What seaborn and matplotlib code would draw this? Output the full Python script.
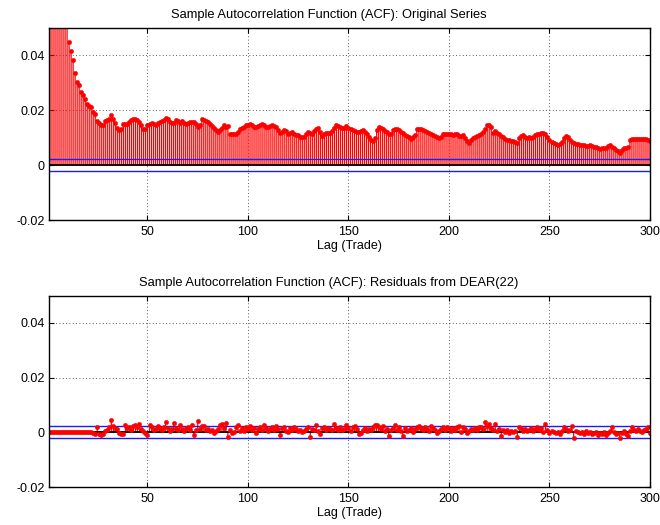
import numpy as np
import pandas as pd
import matplotlib
matplotlib.use("Agg")
import matplotlib.pyplot as plt
import seaborn as sns

# Lags of the sample autocorrelation function
lags = np.arange(1, 301)

# Sample ACF of the original trade series (lags 1..300)
acf_original = [
    0.1520, 0.1180, 0.0970, 0.0840, 0.0750, 0.0680, 0.0630, 0.0590, 0.0560, 0.0530,
    0.0450, 0.0416, 0.0383, 0.0337, 0.0304, 0.0291, 0.0265, 0.0254, 0.0242, 0.0224,
    0.0217, 0.0213, 0.0194, 0.0187, 0.0160, 0.0154, 0.0148, 0.0148, 0.0160, 0.0165,
    0.0168, 0.0184, 0.0169, 0.0153, 0.0137, 0.0129, 0.0131, 0.0150, 0.0150, 0.0150,
    0.0157, 0.0166, 0.0168, 0.0168, 0.0165, 0.0157, 0.0145, 0.0131, 0.0130, 0.0148,
    0.0150, 0.0152, 0.0150, 0.0148, 0.0152, 0.0157, 0.0160, 0.0165, 0.0172, 0.0168,
    0.0158, 0.0153, 0.0155, 0.0164, 0.0160, 0.0155, 0.0160, 0.0155, 0.0150, 0.0152,
    0.0157, 0.0158, 0.0157, 0.0150, 0.0140, 0.0147, 0.0168, 0.0163, 0.0160, 0.0158,
    0.0150, 0.0142, 0.0135, 0.0127, 0.0122, 0.0127, 0.0135, 0.0145, 0.0138, 0.0142,
    0.0115, 0.0113, 0.0115, 0.0113, 0.0120, 0.0132, 0.0135, 0.0138, 0.0145, 0.0146,
    0.0150, 0.0148, 0.0140, 0.0138, 0.0143, 0.0147, 0.0149, 0.0146, 0.0140, 0.0138,
    0.0143, 0.0145, 0.0144, 0.0140, 0.0128, 0.0117, 0.0122, 0.0129, 0.0125, 0.0114,
    0.0118, 0.0121, 0.0113, 0.0110, 0.0109, 0.0104, 0.0101, 0.0103, 0.0112, 0.0121,
    0.0118, 0.0114, 0.0123, 0.0130, 0.0136, 0.0120, 0.0105, 0.0112, 0.0117, 0.0116,
    0.0118, 0.0125, 0.0136, 0.0145, 0.0142, 0.0138, 0.0137, 0.0135, 0.0142, 0.0136,
    0.0130, 0.0127, 0.0125, 0.0122, 0.0121, 0.0126, 0.0128, 0.0122, 0.0112, 0.0101,
    0.0092, 0.0089, 0.0098, 0.0128, 0.0138, 0.0134, 0.0130, 0.0125, 0.0121, 0.0114,
    0.0112, 0.0128, 0.0131, 0.0132, 0.0128, 0.0122, 0.0117, 0.0110, 0.0106, 0.0104,
    0.0097, 0.0101, 0.0111, 0.0130, 0.0132, 0.0130, 0.0128, 0.0126, 0.0122, 0.0118,
    0.0115, 0.0110, 0.0106, 0.0101, 0.0099, 0.0102, 0.0114, 0.0114, 0.0113, 0.0114,
    0.0112, 0.0111, 0.0113, 0.0114, 0.0108, 0.0106, 0.0109, 0.0100, 0.0089, 0.0082,
    0.0093, 0.0099, 0.0101, 0.0106, 0.0110, 0.0114, 0.0122, 0.0131, 0.0148, 0.0145,
    0.0140, 0.0118, 0.0126, 0.0119, 0.0112, 0.0106, 0.0101, 0.0097, 0.0093, 0.0090,
    0.0088, 0.0087, 0.0084, 0.0081, 0.0098, 0.0107, 0.0109, 0.0103, 0.0099, 0.0101,
    0.0100, 0.0101, 0.0109, 0.0112, 0.0114, 0.0116, 0.0117, 0.0112, 0.0103, 0.0090,
    0.0085, 0.0080, 0.0077, 0.0075, 0.0076, 0.0086, 0.0100, 0.0105, 0.0101, 0.0092,
    0.0085, 0.0081, 0.0078, 0.0077, 0.0072, 0.0074, 0.0075, 0.0071, 0.0069, 0.0072,
    0.0068, 0.0065, 0.0065, 0.0064, 0.0060, 0.0061, 0.0062, 0.0064, 0.0068, 0.0072,
    0.0066, 0.0062, 0.0056, 0.0051, 0.0044, 0.0055, 0.0062, 0.0064, 0.0066, 0.0093,
    0.0096, 0.0097, 0.0097, 0.0096, 0.0097, 0.0094, 0.0095, 0.0097, 0.0093, 0.0087,
]

# Sample ACF of the DEAR(22) residuals (lags 1..300)
acf_residual = [
    0.0002, 0.0001, 0.0000, 0.0001, 0.0000, 0.0001, 0.0000, 0.0000, 0.0001, 0.0000,
    0.0000, 0.0001, 0.0000, 0.0000, 0.0000, 0.0001, 0.0000, 0.0000, 0.0000, 0.0000,
    0.0000, 0.0001, -0.0004, -0.0008, 0.0018, -0.0008, -0.0009, -0.0005, 0.0003, 0.0007,
    0.0020, 0.0045, 0.0022, 0.0016, 0.0012, -0.0002, -0.0008, -0.0006, 0.0027, 0.0014,
    0.0019, 0.0009, 0.0024, 0.0027, 0.0018, 0.0031, 0.0012, 0.0006, -0.0002, -0.0009,
    0.0025, 0.0021, 0.0009, 0.0013, 0.0024, 0.0016, 0.0008, 0.0019, 0.0038, 0.0014,
    0.0006, 0.0011, 0.0033, 0.0017, 0.0009, 0.0026, 0.0012, 0.0004, 0.0016, 0.0021,
    0.0009, 0.0027, -0.0009, 0.0008, 0.0040, 0.0013, 0.0024, 0.0023, 0.0007, 0.0011,
    0.0004, 0.0009, -0.0002, 0.0006, 0.0012, 0.0028, 0.0030, 0.0014, 0.0033, -0.0017,
    0.0008, -0.0004, 0.0002, 0.0019, 0.0025, 0.0006, 0.0014, 0.0003, 0.0021, 0.0011,
    0.0022, 0.0009, 0.0017, -0.0003, 0.0012, 0.0020, 0.0007, 0.0026, 0.0015, 0.0004,
    0.0013, 0.0018, 0.0008, 0.0022, 0.0011, -0.0010, 0.0014, 0.0019, 0.0005, 0.0002,
    0.0016, 0.0009, 0.0021, 0.0012, 0.0004, 0.0010, 0.0000, 0.0006, 0.0013, 0.0019,
    -0.0017, 0.0011, 0.0007, 0.0028, 0.0005, -0.0006, 0.0014, 0.0020, 0.0009, 0.0016,
    0.0012, 0.0007, 0.0030, 0.0017, 0.0010, 0.0021, 0.0008, 0.0013, 0.0028, 0.0015,
    0.0006, 0.0018, 0.0022, 0.0011, -0.0005, -0.0004, 0.0008, 0.0015, 0.0003, 0.0012,
    0.0007, 0.0019, 0.0026, 0.0028, 0.0021, 0.0013, 0.0024, 0.0005, 0.0011, -0.0013,
    0.0008, 0.0016, 0.0025, 0.0010, 0.0018, 0.0006, -0.0013, 0.0014, 0.0004, 0.0009,
    0.0017, 0.0002, 0.0012, 0.0021, 0.0023, 0.0015, 0.0007, 0.0019, 0.0011, 0.0003,
    0.0024, 0.0016, 0.0009, -0.0004, 0.0006, 0.0013, 0.0018, 0.0010, 0.0020, 0.0014,
    0.0006, 0.0017, 0.0009, 0.0019, 0.0024, 0.0002, 0.0020, 0.0011, -0.0002, 0.0005,
    0.0013, 0.0008, 0.0016, 0.0010, 0.0018, 0.0021, 0.0012, 0.0036, 0.0022, 0.0030,
    0.0015, 0.0009, 0.0030, 0.0004, 0.0011, -0.0013, 0.0007, 0.0002, 0.0010, -0.0003,
    0.0006, 0.0001, 0.0004, -0.0018, 0.0020, 0.0015, 0.0006, 0.0012, 0.0003, 0.0009,
    0.0016, 0.0005, 0.0011, 0.0020, 0.0008, 0.0014, 0.0002, 0.0030, 0.0007, -0.0002,
    0.0003, 0.0000, -0.0004, 0.0002, -0.0006, 0.0005, 0.0020, 0.0012, 0.0003, 0.0008,
    0.0024, -0.0020, 0.0004, 0.0001, -0.0003, 0.0002, -0.0005, 0.0003, -0.0002, 0.0001,
    -0.0008, -0.0004, 0.0002, -0.0010, -0.0003, -0.0006, 0.0001, -0.0009, -0.0002, 0.0004,
    0.0018, 0.0001, -0.0005, -0.0003, -0.0022, -0.0001, 0.0003, -0.0007, -0.0015, 0.0006,
    0.0020, 0.0009, 0.0003, 0.0011, 0.0006, 0.0002, 0.0008, 0.0013, 0.0018, -0.0002,
]

# Approximate 95% confidence bound for zero autocorrelation
conf_bound = 0.00225

x_ticks = [50, 100, 150, 200, 250, 300]
y_ticks = [-0.02, 0.0, 0.02, 0.04]
y_tick_labels = ["-0.02", "0", "0.02", "0.04"]
titles = [
    "Sample Autocorrelation Function (ACF): Original Series",
    "Sample Autocorrelation Function (ACF): Residuals from DEAR(22)",
]
x_label = "Lag (Trade)"

sns.set_theme(style="white")
plt.rcParams["font.family"] = ["Liberation Sans", "DejaVu Sans"]
plt.rcParams["axes.unicode_minus"] = False

fig = plt.figure(figsize=(6.6, 5.25), dpi=100)
ax_top = fig.add_axes([49 / 660, 1 - 220 / 525, 601 / 660, 192 / 525])
ax_bot = fig.add_axes([49 / 660, 1 - 487 / 525, 601 / 660, 191.5 / 525])


def draw_acf(ax, values, title):
    df = pd.DataFrame({"lag": lags, "acf": values})
    # stems: unsnapped lines so neighbouring stems blend into a red/pink comb
    stems = ax.vlines(df["lag"], 0, df["acf"], color="red", lw=0.9, zorder=2)
    stems.set_snap(False)
    ax.axhline(conf_bound, color="#1a1aff", lw=1.0, zorder=3)
    ax.axhline(-conf_bound, color="#1a1aff", lw=1.0, zorder=3)
    ax.axhline(0, color="black", lw=1.3, zorder=4)
    sns.scatterplot(data=df, x="lag", y="acf", ax=ax, color="red", s=10,
                    edgecolor="red", linewidth=0.3, zorder=5, legend=False)

    ax.set_xlim(1, 300)
    ax.set_ylim(-0.02, 0.05)
    ax.set_xticks(x_ticks)
    ax.set_xticklabels([str(t) for t in x_ticks])
    ax.set_yticks(y_ticks)
    ax.set_yticklabels(y_tick_labels)
    ax.tick_params(direction="in", length=3.5, width=0.8, color="black",
                   top=True, right=True, bottom=True, left=True,
                   labelsize=9, labelcolor="black", pad=3)
    ax.tick_params(axis="x", pad=4.5)
    ax.grid(True, color="black", linestyle=(0, (1, 3)), linewidth=0.6, alpha=0.85)
    ax.set_axisbelow(True)
    for side in ax.spines.values():
        side.set_visible(True)
        side.set_color("black")
        side.set_linewidth(1.0)
        side.set_zorder(6)
    # title centred on the figure rather than on the plot box
    ax.set_title(title, fontsize=9.3, pad=7, color="black", x=(329 - 49) / 601)
    ax.set_xlabel(x_label, fontsize=9, labelpad=1, color="black")
    ax.set_ylabel("")


draw_acf(ax_top, acf_original, titles[0])
draw_acf(ax_bot, acf_residual, titles[1])

fig.savefig("out.png", dpi=100, facecolor="white")
